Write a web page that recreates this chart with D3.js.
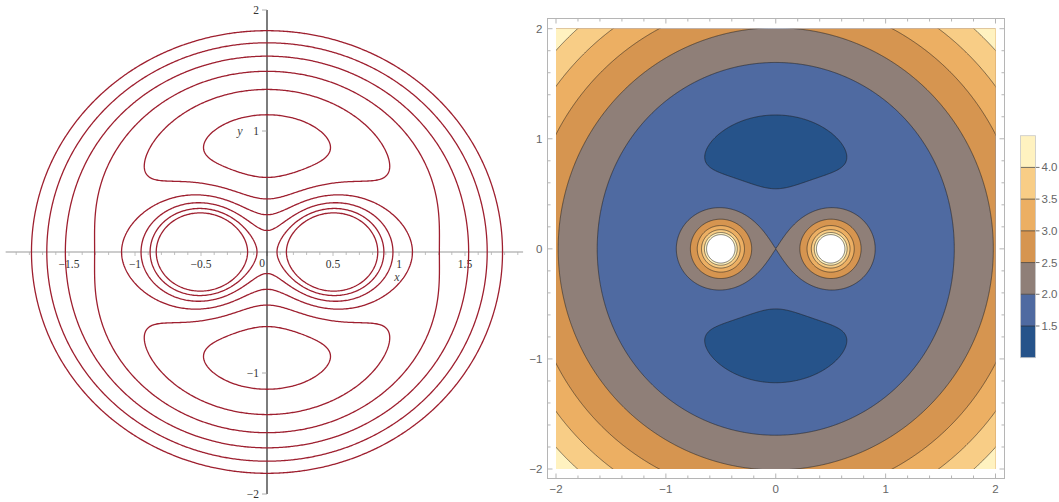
<!DOCTYPE html>
<html>
<head>
<meta charset="utf-8">
<script src="https://cdn.jsdelivr.net/npm/d3@7"></script>
<style>
  html, body { margin: 0; padding: 0; background: #fff; }
  svg { display: block; }
</style>
</head>
<body>
<svg id="chart" width="1059" height="502"></svg>
<script>
// ---------- data ----------
// two equal masses on the x axis; the plotted field is
//   Omega(x,y) = (x^2+y^2)/2 + sum_k m_k / r_k
const massX = [-0.5, 0.5];
const massM = [0.5, 0.5];
// contour levels of the left (line) plot
const lineLevels = [1.45, 1.6, 1.75, 1.9, 2.05, 2.2];
// band edges of the right (filled) plot
const bandLevels = [1.5, 2.0, 2.5, 3.0, 3.5, 4.0, 4.5];
const bandColors = ["#26538a", "#4f6aa1", "#8f7f78", "#d69550", "#ecaf63", "#f8cd86", "#fff2c0", "#ffffff"];
const legendTicks = [1.5, 2.0, 2.5, 3.0, 3.5, 4.0];
const legendRange = [1.0, 4.5];
const leftXTicks = [-1.5, -1, -0.5, 0.5, 1, 1.5];
const leftYTicks = [-2, -1, 1, 2];
const rightTicks = [-2, -1, 0, 1, 2];

function omega(x, y) {
  let v = (x * x + y * y) / 2;
  for (let k = 0; k < massX.length; k++) {
    const r = Math.hypot(x - massX[k], y);
    v += massM[k] / Math.max(r, 1e-4);
  }
  return Math.min(v, 50);
}

function grid(xmin, xmax, ymin, ymax, n) {
  const values = new Float64Array(n * n);
  const sx = (xmax - xmin) / n, sy = (ymax - ymin) / n;
  for (let j = 0; j < n; j++) {
    const y = ymax - (j + 0.5) * sy;
    for (let i = 0; i < n; i++) {
      values[j * n + i] = omega(xmin + (i + 0.5) * sx, y);
    }
  }
  return values;
}

const svg = d3.select("#chart");

// ================= LEFT : contour lines =================
(function () {
  const x = d3.scaleLinear().domain([-2, 2]).range([3, 531]);
  const y = d3.scaleLinear().domain([-2, 2]).range([494, 10]);
  const g = svg.append("g");

  // x axis (grey)
  g.append("line").attr("x1", x(-1.98)).attr("x2", x(1.94)).attr("y1", y(0)).attr("y2", y(0))
    .attr("stroke", "#9a9a9a").attr("stroke-width", 1.2);
  const minor = d3.range(-19, 20).map(d => d / 10);
  g.selectAll("line.xt").data(minor).join("line").attr("class", "xt")
    .attr("x1", d => x(d)).attr("x2", d => x(d))
    .attr("y1", y(0)).attr("y2", d => y(0) + (Math.abs(d * 2 - Math.round(d * 2)) < 1e-6 ? 4 : 3))
    .attr("stroke", "#b0b0b0").attr("stroke-width", 0.8);
  g.selectAll("text.xl").data(leftXTicks).join("text").attr("class", "xl")
    .attr("x", d => x(d)).attr("y", y(0) + 16)
    .attr("text-anchor", "middle").attr("font-family", "Liberation Serif").attr("font-size", 11.5)
    .attr("fill", "#333").text(d => d3.format("")(d).replace("-", "\u2212"));
  g.append("text").attr("x", x(0) - 5).attr("y", y(0) + 15).attr("text-anchor", "middle")
    .attr("font-family", "Liberation Serif").attr("font-size", 11.5).attr("fill", "#333").text("0");
  g.append("text").attr("x", x(1) - 2).attr("y", y(0) + 29).attr("text-anchor", "middle")
    .attr("font-family", "Liberation Serif").attr("font-style", "italic").attr("font-size", 12)
    .attr("fill", "#444").text("x");

  // y axis (black)
  g.append("line").attr("x1", x(0)).attr("x2", x(0)).attr("y1", y(2)).attr("y2", y(-2))
    .attr("stroke", "#111").attr("stroke-width", 1.1);
  g.selectAll("line.yt").data(leftYTicks).join("line").attr("class", "yt")
    .attr("x1", x(0) - 5).attr("x2", x(0)).attr("y1", d => y(d)).attr("y2", d => y(d))
    .attr("stroke", "#999").attr("stroke-width", 0.8);
  g.selectAll("text.yl").data(leftYTicks).join("text").attr("class", "yl")
    .attr("x", x(0) - 8).attr("y", d => y(d) + 4)
    .attr("text-anchor", "end").attr("font-family", "Liberation Serif").attr("font-size", 11.5)
    .attr("fill", "#333").text(d => String(d).replace("-", "\u2212"));
  g.append("text").attr("x", x(0) - 27).attr("y", y(1) + 4).attr("text-anchor", "middle")
    .attr("font-family", "Liberation Serif").attr("font-style", "italic").attr("font-size", 12)
    .attr("fill", "#444").text("y");

  // contours
  const ext = 2.3, n = 460;
  const values = grid(-ext, ext, -ext, ext, n);
  const step = 2 * ext / n;
  const proj = d3.geoTransform({
    point: function (u, v) { this.stream.point(x(-ext + u * step), y(ext - v * step)); }
  });
  const path = d3.geoPath(proj);
  svg.append("clipPath").attr("id", "clipL").append("rect")
    .attr("x", 0).attr("y", y(2)).attr("width", 535).attr("height", y(-2) - y(2));
  const contours = d3.contours().size([n, n]).thresholds(lineLevels)(values);
  g.append("g").attr("clip-path", "url(#clipL)")
    .selectAll("path").data(contours).join("path")
    .attr("d", path).attr("fill", "none").attr("stroke", "#9e1f2f").attr("stroke-width", 1.3);
})();

// ================= RIGHT : filled contours =================
(function () {
  const x = d3.scaleLinear().domain([-2, 2]).range([556, 995.5]);
  const y = d3.scaleLinear().domain([-2, 2]).range([469, 28.7]);
  const g = svg.append("g");

  svg.append("clipPath").attr("id", "clipR").append("rect")
    .attr("x", x(-2)).attr("y", y(2)).attr("width", x(2) - x(-2)).attr("height", y(-2) - y(2));

  const ext = 2.06, n = 520;
  const values = grid(-ext, ext, -ext, ext, n);
  const step = 2 * ext / n;
  const proj = d3.geoTransform({
    point: function (u, v) { this.stream.point(x(-ext + u * step), y(ext - v * step)); }
  });
  const path = d3.geoPath(proj);
  const contours = d3.contours().size([n, n]).thresholds(bandLevels)(values);

  const body = g.append("g").attr("clip-path", "url(#clipR)");
  body.append("rect").attr("x", x(-2)).attr("y", y(2)).attr("width", x(2) - x(-2))
    .attr("height", y(-2) - y(2)).attr("fill", bandColors[0]);
  body.selectAll("path.band").data(contours).join("path").attr("class", "band")
    .attr("d", path).attr("fill", (d, i) => bandColors[i + 1]).attr("stroke", "none");
  body.selectAll("path.line").data(contours).join("path").attr("class", "line")
    .attr("d", path).attr("fill", "none").attr("stroke", "rgba(30,30,30,0.6)").attr("stroke-width", 0.9);

  // frame
  const fx0 = 547.5, fx1 = 1004.5, fy0 = 18.5, fy1 = 478.5;
  g.append("rect").attr("x", fx0).attr("y", fy0).attr("width", fx1 - fx0).attr("height", fy1 - fy0)
    .attr("fill", "none").attr("stroke", "#b5b5b5").attr("stroke-width", 1);
  const mt = d3.range(-10, 11).map(d => d / 5);
  const isMajor = d => Math.abs(d - Math.round(d)) < 1e-6;
  const tl = d => isMajor(d) ? 5 : 3;
  const tk = g.append("g").attr("stroke", "#b5b5b5").attr("stroke-width", 1);
  mt.forEach(d => {
    tk.append("line").attr("x1", x(d)).attr("x2", x(d)).attr("y1", fy1).attr("y2", fy1 - tl(d));
    tk.append("line").attr("x1", x(d)).attr("x2", x(d)).attr("y1", fy0).attr("y2", fy0 + tl(d));
    tk.append("line").attr("y1", y(d)).attr("y2", y(d)).attr("x1", fx0).attr("x2", fx0 + tl(d));
    tk.append("line").attr("y1", y(d)).attr("y2", y(d)).attr("x1", fx1).attr("x2", fx1 - tl(d));
  });
  g.selectAll("text.bx").data(rightTicks).join("text").attr("class", "bx")
    .attr("x", d => x(d)).attr("y", fy1 + 14).attr("text-anchor", "middle")
    .attr("font-family", "Liberation Sans").attr("font-size", 11.5).attr("fill", "#666")
    .text(d => String(d).replace("-", "\u2212"));
  g.selectAll("text.ly").data(rightTicks).join("text").attr("class", "ly")
    .attr("x", fx0 - 5).attr("y", d => y(d) + 4).attr("text-anchor", "end")
    .attr("font-family", "Liberation Sans").attr("font-size", 11.5).attr("fill", "#666")
    .text(d => String(d).replace("-", "\u2212"));

  // legend
  const ly = d3.scaleLinear().domain(legendRange).range([357.7, 135.7]);
  const lx0 = 1020.5, lw = 15;
  const edges = [legendRange[0]].concat(bandLevels.slice(0, -1), [legendRange[1]]);
  const lg = svg.append("g");
  lg.selectAll("rect.lb").data(d3.range(edges.length - 1)).join("rect").attr("class", "lb")
    .attr("x", lx0).attr("width", lw)
    .attr("y", i => ly(edges[i + 1])).attr("height", i => ly(edges[i]) - ly(edges[i + 1]))
    .attr("fill", i => bandColors[i]);
  lg.selectAll("line.ls").data(legendTicks).join("line").attr("class", "ls")
    .attr("x1", lx0).attr("x2", lx0 + lw + 4).attr("y1", d => ly(d)).attr("y2", d => ly(d))
    .attr("stroke", "rgba(40,40,40,0.65)").attr("stroke-width", 1);
  lg.append("rect").attr("x", lx0).attr("y", ly(legendRange[1])).attr("width", lw)
    .attr("height", ly(legendRange[0]) - ly(legendRange[1]))
    .attr("fill", "none").attr("stroke", "#c8c8c8").attr("stroke-width", 0.8);
  lg.selectAll("text.lt").data(legendTicks).join("text").attr("class", "lt")
    .attr("x", lx0 + lw + 6).attr("y", d => ly(d) + 4)
    .attr("font-family", "Liberation Sans").attr("font-size", 11.5).attr("fill", "#666")
    .text(d => d.toFixed(1));
})();
</script>
</body>
</html>
